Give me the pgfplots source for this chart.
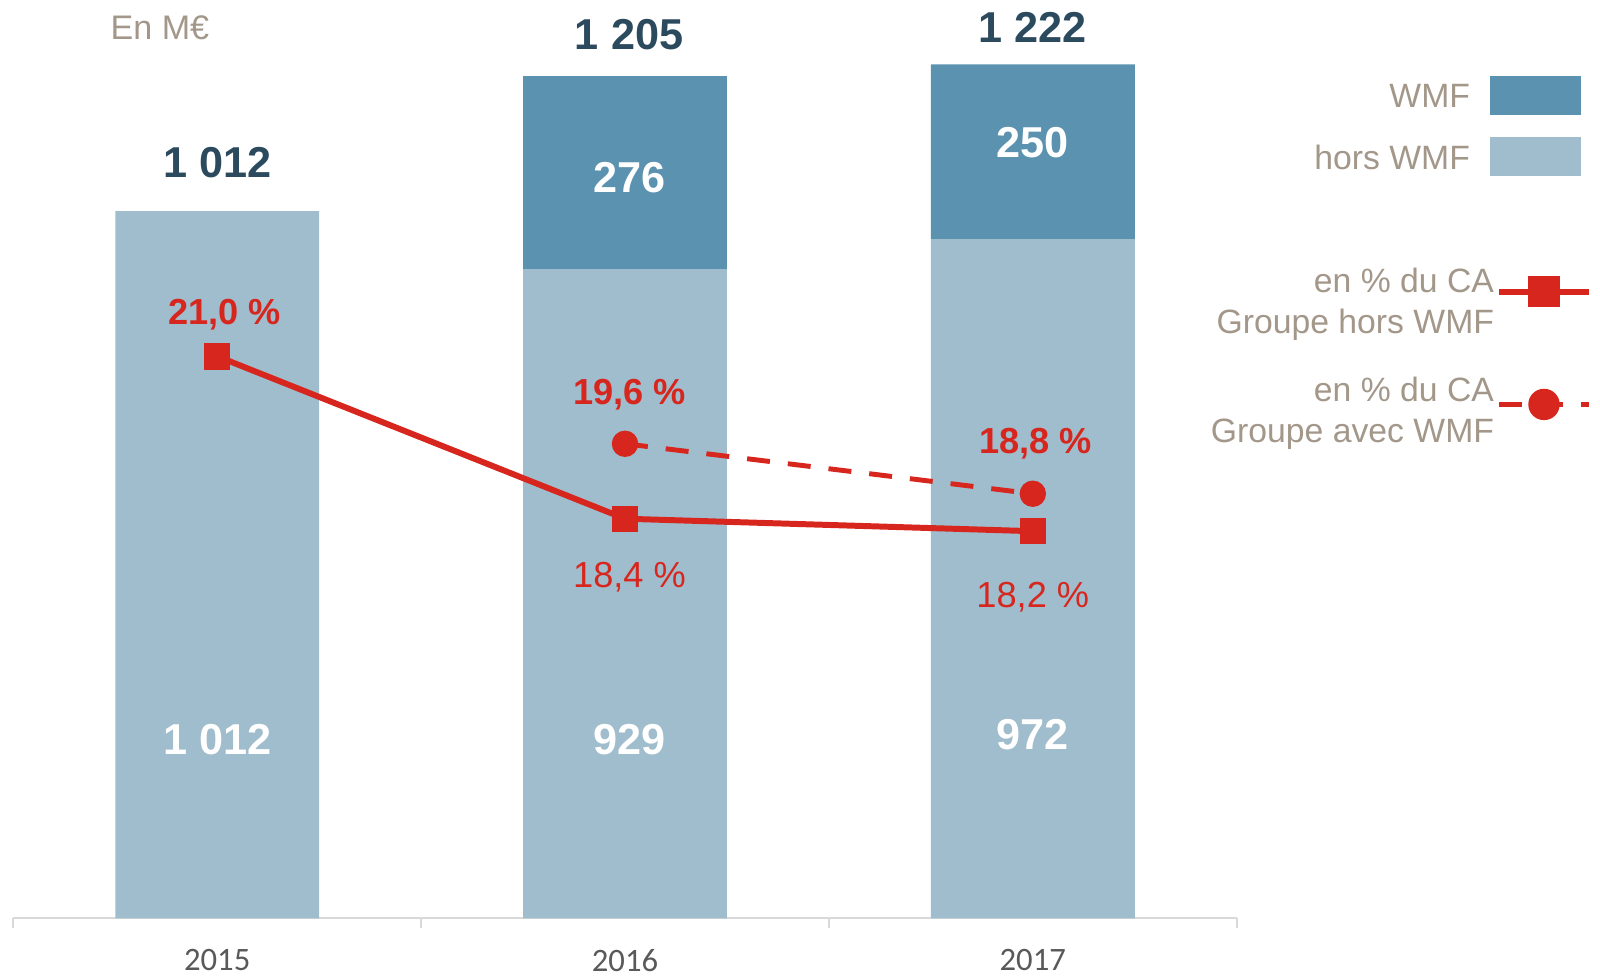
\documentclass[border=0pt]{standalone}
\usepackage{fontspec}
\setmainfont{Liberation Sans}
\newfontfamily\calibri{Carlito}
\usepackage{pgfplots}
\pgfplotsset{compat=1.18}
\definecolor{BarLight}{HTML}{A0BDCD}
\definecolor{BarDark}{HTML}{5B92B0}
\definecolor{RedLine}{HTML}{D7261E}
\definecolor{LabelDark}{HTML}{2C4A5E}
\definecolor{LegendGray}{HTML}{A3978A}
\definecolor{TickGray}{HTML}{595959}
\definecolor{AxisGray}{HTML}{D9D9D9}

\pgfplotsset{
  barleg/.style={legend image code/.code={\fill[##1] (0cm,-0.16cm) rectangle (0.91cm,0.23cm);}},
  lineleg/.style={legend image code/.code={\draw[mark repeat=2,mark phase=2,##1,mark options={solid,line width=0.4pt,scale=1.2}] plot coordinates {(0cm,#1)(0.45cm,#1)(0.9cm,#1)};}},
}

\begin{document}
\begin{tikzpicture}
\useasboundingbox (-0.133cm,-0.576cm) rectangle (15.867cm,9.184cm);
\begin{axis}[
  scale only axis, width=12.234cm, height=9.184cm,
  xmin=-0.5, xmax=2.5, ymin=0, ymax=1314,
  enlargelimits=false,
  ybar stacked, bar width=0.5,
  axis x line=bottom, axis y line=none,
  axis line style={-, draw=AxisGray, line width=0.6pt},
  xtick={0,1,2}, xticklabels={2015,2016,2017},
  major tick length=0pt,
  minor xtick={-0.5,0.5,1.5,2.5},
  minor tick length=0.1cm,
  tick align=outside,
  tick style={draw=AxisGray, line width=0.6pt},
  xticklabel style={font=\calibri\fontsize{9.3}{11}\selectfont, text=TickGray, inner sep=0pt, yshift=-0.30cm},
  clip=false,
  legend style={draw=none, fill=none, at={(1.2814,0.9173)}, anchor=north east,
    inner sep=0pt, outer sep=0pt, row sep=0.22cm, column sep=0.2cm,
    font=\fontsize{9.6}{11.6}\selectfont, text=LegendGray, nodes={inner sep=0pt}},
  legend cell align=right, legend plot pos=right, reverse legend,
]
\addplot[fill=BarLight, draw=none, barleg] coordinates {(0,1012) (1,929) (2,972)};
\addlegendentry{hors WMF}
\addplot[fill=BarDark, draw=none, barleg] coordinates {(0,0) (1,276) (2,250)};
\addlegendentry{WMF}

\node[font=\bfseries\fontsize{12.3}{14}\selectfont, text=LabelDark] at (axis cs:0,1081) {1 012};
\node[font=\bfseries\fontsize{12.3}{14}\selectfont, text=LabelDark] at (axis cs:1.01,1264) {1 205};
\node[font=\bfseries\fontsize{12.3}{14}\selectfont, text=LabelDark] at (axis cs:2,1274.6) {1 222};
\node[font=\fontsize{9.7}{11.6}\selectfont, text=LegendGray, anchor=west, inner sep=0pt] at (axis cs:-0.263,1274.6) {En M€};
\end{axis}

\begin{axis}[
  scale only axis, width=12.234cm, height=9.184cm,
  xmin=-0.5, xmax=2.5, ymin=12, ymax=26.706,
  enlargelimits=false,
  hide axis, clip=false,
  legend style={draw=none, fill=none, at={(1.2904,0.708)}, anchor=north east,
    inner sep=0pt, outer sep=0pt, row sep=0.38cm, column sep=0.02cm,
    font=\fontsize{9.6}{11.7}\selectfont, text=LegendGray, nodes={inner sep=0pt, align=right}},
  legend cell align=right, legend plot pos=right,
]
\addplot[RedLine, line width=1.7pt, mark=square*, mark size=0.125cm, mark options={solid, line width=0.4pt}, lineleg=0.12cm]
  coordinates {(0,21.0) (1,18.4) (2,18.2)};
\addlegendentry{en \% du CA\\Groupe hors WMF}
\addplot[RedLine, line width=1.4pt, dash pattern=on 0.23cm off 0.18cm, mark=*, mark size=0.125cm, mark options={solid, line width=0.4pt}, lineleg=0.08cm]
  coordinates {(1,19.6) (2,18.8)};
\addlegendentry{en \% du CA\\Groupe avec WMF}

% values inside the bars (placed here so that they lie above the bars)
\node[font=\bfseries\fontsize{12.3}{14}\selectfont, text=white] at (axis cs:1.01,23.863) {276};
\node[font=\bfseries\fontsize{12.3}{14}\selectfont, text=white] at (axis cs:2,24.418) {250};
\node[font=\bfseries\fontsize{12.3}{14}\selectfont, text=white] at (axis cs:0,14.860) {1 012};
\node[font=\bfseries\fontsize{12.3}{14}\selectfont, text=white] at (axis cs:1.01,14.860) {929};
\node[font=\bfseries\fontsize{12.3}{14}\selectfont, text=white] at (axis cs:2,14.941) {972};

\node[font=\bfseries\fontsize{10.3}{12}\selectfont, text=RedLine] at (axis cs:0.018,21.665) {21,0 \%};
\node[font=\bfseries\fontsize{10.3}{12}\selectfont, text=RedLine] at (axis cs:1.011,20.38) {19,6 \%};
\node[font=\bfseries\fontsize{10.3}{12}\selectfont, text=RedLine] at (axis cs:2.007,19.60) {18,8 \%};
\node[font=\fontsize{10.3}{12}\selectfont, text=RedLine] at (axis cs:1.011,17.47) {18,4 \%};
\node[font=\fontsize{10.3}{12}\selectfont, text=RedLine] at (axis cs:2.0,17.15) {18,2 \%};
\end{axis}
\end{tikzpicture}
\end{document}
